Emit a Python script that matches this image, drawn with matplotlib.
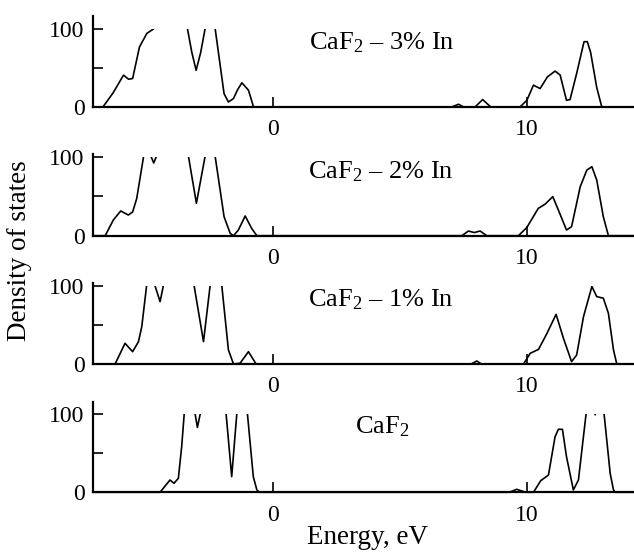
import numpy as np
import matplotlib
matplotlib.use('Agg')
import matplotlib.pyplot as plt
from matplotlib.patches import Rectangle

plt.rcParams['font.family'] = ['Liberation Serif', 'DejaVu Serif']
plt.rcParams['mathtext.fontset'] = 'custom'
plt.rcParams['mathtext.rm'] = 'Liberation Serif'
plt.rcParams['mathtext.it'] = 'Liberation Serif:italic'
plt.rcParams['font.size'] = 17

# panel labels, top to bottom
labels = ['CaF$_2$ – 3% In', 'CaF$_2$ – 2% In', 'CaF$_2$ – 1% In', 'CaF$_2$']

# density of states (values > 100 are clipped in the plot)
e_3 = [-7.09, -6.7, -6.3, -5.89, -5.69, -5.53, -5.26, -4.97, -4.71, -4.4, -3.6, -3.37, -3.2, -3.03,
       -2.85, -2.68, -2.5, -2.4, -2.28, -1.93, -1.76, -1.56, -1.4, -1.23, -0.97, -0.77,
       7.03, 7.3, 7.5, 7.95, 8.25, 8.57, 9.72, 9.99, 10.25, 10.51, 10.8, 11.1, 11.3, 11.55,
       11.69, 11.95, 12.24, 12.37, 12.5, 12.74, 12.94, 14.2]
d_3 = [0, 0, 18, 40.8, 35.6, 36.5, 77, 94.4, 100, 130, 130, 100, 70, 47,
       70, 100, 130, 130, 100, 17, 6.4, 10.8, 22, 31, 21.5, 0,
       0, 3.5, 0, 0, 9.5, 0, 0, 8.6, 28, 23.6, 38.6, 46, 41, 8.6,
       9.5, 43, 83.7, 83.7, 70, 25, 0, 0]

e_2 = [-7.09, -6.61, -6.29, -6.0, -5.7, -5.53, -5.37, -5.1, -4.95, -4.8, -4.7, -4.6, -4.4, -3.5,
       -3.33, -3.02, -2.68, -2.5, -2.4, -2.28, -1.93, -1.69, -1.56, -1.37, -1.1, -0.84, -0.64,
       7.43, 7.69, 7.92, 8.15, 8.41, 9.66, 9.99, 10.44, 10.71, 11.01, 11.23, 11.55, 11.75,
       12.09, 12.35, 12.55, 12.74, 13.0, 13.2, 14.2]
d_2 = [0, 0, 19.9, 31.3, 26.2, 30, 47, 100, 115, 100, 92, 100, 130, 130,
       100, 41, 100, 130, 130, 100, 24, 3, 0, 7, 25, 9, 0,
       0, 5.9, 4, 5.9, 0, 0, 10.5, 34.6, 40, 49.4, 32.5, 7.2, 11.4,
       62, 83, 87.3, 70.5, 24, 0, 0]

e_1 = [-7.09, -6.22, -5.83, -5.53, -5.3, -5.17, -4.98, -4.8, -4.65, -4.45, -4.32, -4.1, -3.3,
       -3.11, -2.74, -2.48, -2.3, -2.2, -2.02, -1.76, -1.56, -1.3, -0.97, -0.67,
       7.8, 8.02, 8.2, 9.86, 10.12, 10.45, 10.78, 11.14, 11.43, 11.75, 11.95, 12.22, 12.55,
       12.74, 13.0, 13.2, 13.4, 13.53, 14.2]
d_1 = [0, 0, 26.4, 15.7, 28.5, 47.7, 100, 130, 100, 79.6, 100, 130, 130,
       100, 28.5, 100, 130, 130, 100, 18, 0, 1, 15.7, 0,
       0, 3.8, 0, 0, 13.6, 18.7, 39, 63.4, 32.8, 3, 11.5, 60.5, 99,
       86, 84, 64.7, 18, 0, 0]

e_0 = [-7.09, -4.45, -4.06, -3.9, -3.73, -3.6, -3.5, -3.3, -3.07, -2.98, -2.87, -2.6, -2.0,
       -1.85, -1.63, -1.43, -1.3, -1.15, -1.01, -0.78, -0.64, -0.54,
       9.3, 9.59, 9.95, 10.25, 10.54, 10.84, 11.1, 11.23, 11.39, 11.55, 11.82, 12.02, 12.32,
       12.5, 12.62, 12.68, 12.74, 12.85, 13.03, 13.27, 13.4, 13.47, 14.2]
d_0 = [0, 0, 15.7, 11.5, 17.9, 58, 100, 130, 100, 83, 100, 130, 130,
       100, 20, 100, 130, 130, 100, 20, 3, 0,
       0, 3.8, 0, 0, 15, 22, 71, 80.5, 80.5, 45.5, 3, 15.7, 100,
       130, 110, 99, 110, 130, 100, 24, 3, 0, 0]

energies = [e_3, e_2, e_1, e_0]
dos = [d_3, d_2, d_1, d_0]
label_pos = [(1.42, 82), (1.38, 80.6), (1.38, 81.7), (3.23, 83.8)]

# axes boxes (left, bottom, width, height) and y tops
boxes = [(0.1467, 0.8062, 0.853, 0.1649),
         (0.1467, 0.5730, 0.853, 0.1480),
         (0.1467, 0.3406, 0.853, 0.1473),
         (0.1467, 0.1082, 0.853, 0.1641)]
ytops = [116.7, 103.4, 103.8, 115.8]

fig = plt.figure(figsize=(6.34, 5.52), dpi=100)
for box, ytop, e, d, lab, pos in zip(boxes, ytops, energies, dos, labels, label_pos):
    ax = fig.add_axes(box)
    line, = ax.plot(e, d, color='black', lw=1.2)
    clip = Rectangle((-7.09, -5), 21.3, 105, transform=ax.transData, facecolor='none', edgecolor='none')
    line.set_clip_path(clip)
    ax.set_xlim(-7.09, 14.2)
    ax.set_ylim(0, ytop)
    for s in ['top', 'right']:
        ax.spines[s].set_visible(False)
    for s in ['left', 'bottom']:
        ax.spines[s].set_linewidth(1.6)
    ax.set_xticks([0, 10])
    ax.set_yticks([0, 50, 100])
    ax.set_yticklabels(['0', '', '100'])
    ax.tick_params(direction='in', length=7, width=1.2, pad=6, labelsize=17)
    ax.tick_params(axis='x', pad=9)
    ax.text(pos[0], pos[1], lab, ha='left', va='center', fontsize=19)

fig.text(20 / 634, 1 - 251 / 552, 'Density of states', rotation=90, ha='center', va='center', fontsize=19.5)
fig.text(368 / 634, 1 - 537 / 552, 'Energy, eV', ha='center', va='center', fontsize=19.5)

fig.savefig('out.png', dpi=100)
